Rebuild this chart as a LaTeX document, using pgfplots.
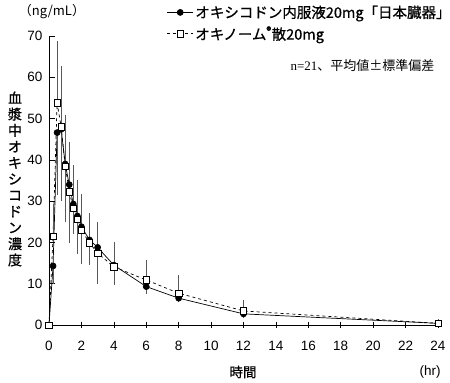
\documentclass[border=0pt]{standalone}
\usepackage{pgfplots}
\pgfplotsset{compat=1.18}
\usepackage{fontspec}
\setmainfont{Liberation Sans}
\newfontfamily\jp{Noto Sans CJK JP}
\newfontfamily\jpb{Noto Sans CJK JP}[FakeBold=0.8]
\newfontfamily\serif{Liberation Serif}
\begin{document}
\begin{tikzpicture}
\useasboundingbox (-49pt,-58pt) rectangle (401pt,325pt);
\begin{axis}[
  at={(0pt,0pt)}, anchor=south west,
  scale only axis, width=389pt, height=289pt,
  xmin=0, xmax=24, ymin=0, ymax=70,
  axis lines=left, axis line style={-, line width=0.6pt},
  xtick={0,2,...,24}, ytick={0,10,...,70},
  xtick align=center, ytick align=inside,
  major tick length=6pt,
  tick style={line width=0.6pt, black},
  tick label style={font=\fontsize{13.5}{15}\selectfont},
  /pgf/number format/assume math mode=true,
  yticklabel style={xshift=-3pt},
  xticklabel style={yshift=-10pt},
  clip=false,
  legend style={at={(0.303,1.113)}, anchor=north west, draw=none, fill=none,
    font=\jpb\fontsize{14.5}{16}\selectfont, row sep=3pt, inner sep=0pt},
  legend cell align=left,
  legend image code/.code={\draw[mark repeat=2,mark phase=2,#1] plot coordinates {(0cm,0cm) (0.45cm,0cm) (0.9cm,0cm)};},
]
% black series: oral solution, lower SD bars
\addplot[black, line width=0.7pt, mark=*, mark size=3pt, mark options={solid, fill=black},
  error bars/.cd, y dir=minus, y explicit,
  error bar style={line width=0.6pt, black!65},
  error mark options={black!65, line width=0.6pt, mark size=4pt}]
coordinates {
(0,0) +- (0,0)
(0.25,14.3) +- (0,3.4)
(0.5,46.6) +- (0,14.1)
(0.75,47.4) +- (0,16.4)
(1,39.0) +- (0,13.2)
(1.25,34.0) +- (0,13.2)
(1.5,29.3) +- (0,6.3)
(1.75,26.4) +- (0,8.2)
(2,23.8) +- (0,8.1)
(2.5,20.6) +- (0,5.0)
(3,18.8) +- (0,7.9)
(4,14.5) +- (0,3.8)
(6,9.3) +- (0,0.8)
(8,6.5) +- (0,0)
(12,2.7) +- (0,0)
(24,0.4) +- (0,0)
};
\addlegendentry{オキシコドン内服液20mg「日本臓器」}
% white series: powder, upper SD bars
\addplot[black, line width=0.7pt, dashed, mark=square*, mark size=3.2pt, mark options={solid, fill=white, line width=0.6pt},
  error bars/.cd, y dir=plus, y explicit,
  error bar style={line width=0.6pt, black!65, solid},
  error mark options={black!65, line width=0.6pt, mark size=4pt}]
coordinates {
(0,0) +- (0,0)
(0.25,21.5) +- (0,6.8)
(0.5,53.8) +- (0,14.0)
(0.75,48.0) +- (0,13.7)
(1,38.5) +- (0,11.5)
(1.25,32.3) +- (0,11.1)
(1.5,28.2) +- (0,9.6)
(1.75,25.6) +- (0,8.5)
(2,23.0) +- (0,7.7)
(2.5,19.9) +- (0,6.3)
(3,17.4) +- (0,6.6)
(4,14.1) +- (0,5.1)
(6,10.9) +- (0,3.9)
(8,7.7) +- (0,3.4)
(12,3.4) +- (0,1.7)
(24,0.4) +- (0,0)
};
\addlegendentry{オキノーム\textsuperscript{®}散20mg}
\end{axis}
\node[font=\jp\fontsize{13}{15}\selectfont] at (3pt,313pt) {（ng/mL）};
\node[font=\jpb\fontsize{14}{16.2}\selectfont, align=center] at (-34pt,146pt) {血\\漿\\中\\オ\\キ\\シ\\コ\\ド\\ン\\濃\\度};
\node[font=\jpb\fontsize{13.5}{15}\selectfont] at (194pt,-47pt) {時間};
\node[font=\fontsize{13.5}{15}\selectfont] at (381pt,-47pt) {(hr)};
\node[anchor=east, font=\fontsize{13}{15}\selectfont] at (389pt,259pt) {{\serif n=21}{\jp 、平均値±標準偏差}};
\end{tikzpicture}
\end{document}
